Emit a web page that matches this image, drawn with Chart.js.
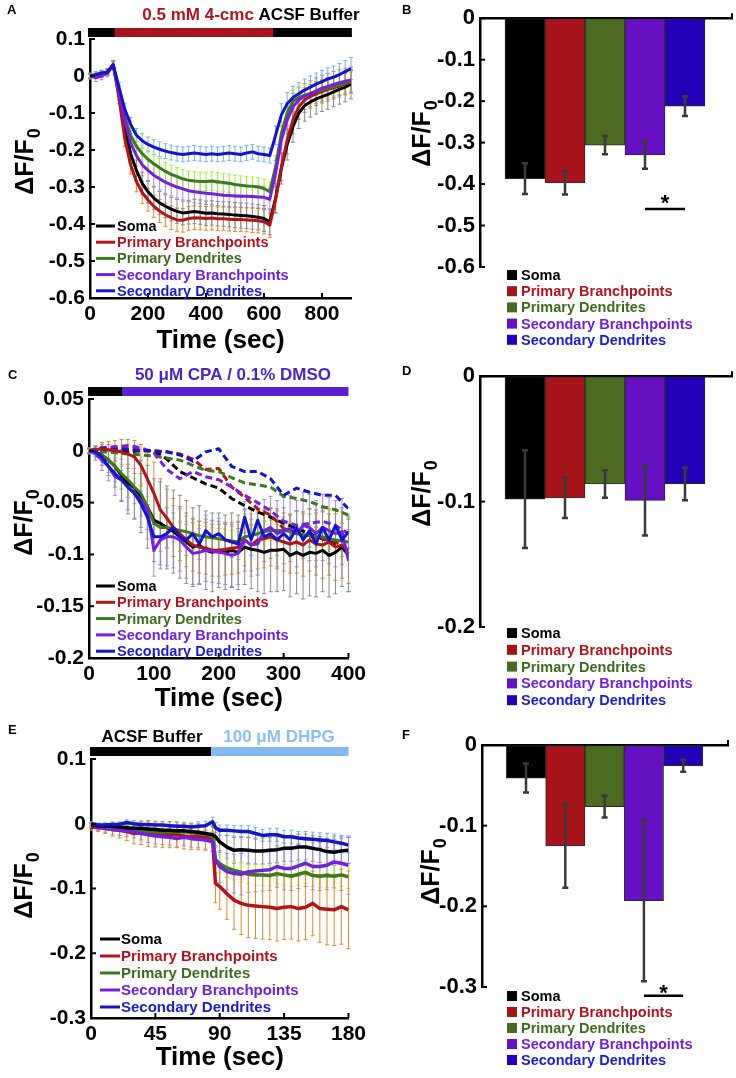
<!DOCTYPE html>
<html><head><meta charset="utf-8">
<script src="https://cdn.jsdelivr.net/npm/chart.js@4.4.0/dist/chart.umd.min.js"></script>
<style>
html,body{margin:0;padding:0;background:#fff;}
#wrap{position:relative;width:736px;height:1078px;overflow:hidden;background:#fff;}
canvas{position:absolute;display:block;}
</style></head><body>
<div id="wrap">
<canvas id="cA" width="370" height="358" style="left:0;top:0;width:370px;height:358px"></canvas>
<canvas id="cB" width="366" height="358" style="left:370px;top:0;width:366px;height:358px"></canvas>
<canvas id="cC" width="370" height="362" style="left:0;top:358px;width:370px;height:362px"></canvas>
<canvas id="cD" width="366" height="362" style="left:370px;top:358px;width:366px;height:362px"></canvas>
<canvas id="cE" width="370" height="358" style="left:0;top:720px;width:370px;height:358px"></canvas>
<canvas id="cF" width="366" height="358" style="left:370px;top:720px;width:366px;height:358px"></canvas>
</div>
<script>
// ---------------- names / categories ----------------
const seriesNames = ['Soma','Primary Branchpoints','Primary Dendrites','Secondary Branchpoints','Secondary Dendrites'];
const barCategories = [1,2,3,4,5];

// ---------------- Panel A (time course, 4-cmc) ----------------
const timeA = [0,20,40,60,80,100,120,140,160,180,200,220,240,260,280,300,320,340,360,380,400,420,440,460,480,500,520,540,560,580,600,620,640,660,680,700,720,740,760,780,800,820,840,860,880,900];
const somaA = [0,0.002,0.006,0.012,0.03,-0.05,-0.14,-0.21,-0.255,-0.29,-0.313,-0.33,-0.343,-0.352,-0.36,-0.366,-0.37,-0.368,-0.366,-0.368,-0.371,-0.37,-0.372,-0.373,-0.374,-0.376,-0.377,-0.378,-0.38,-0.382,-0.385,-0.394,-0.33,-0.25,-0.185,-0.137,-0.1,-0.08,-0.07,-0.062,-0.056,-0.05,-0.043,-0.036,-0.03,-0.022];
const pbA = [0,0,0.004,0.01,0.032,-0.06,-0.17,-0.24,-0.285,-0.315,-0.335,-0.352,-0.365,-0.375,-0.383,-0.389,-0.39,-0.385,-0.383,-0.384,-0.385,-0.384,-0.386,-0.386,-0.387,-0.388,-0.388,-0.389,-0.39,-0.391,-0.394,-0.403,-0.335,-0.245,-0.173,-0.119,-0.083,-0.065,-0.055,-0.048,-0.042,-0.037,-0.032,-0.027,-0.021,-0.015];
const pdA = [0,0,0.005,0.01,0.028,-0.04,-0.11,-0.16,-0.19,-0.21,-0.225,-0.237,-0.248,-0.258,-0.266,-0.272,-0.278,-0.282,-0.284,-0.285,-0.285,-0.284,-0.286,-0.288,-0.29,-0.293,-0.295,-0.297,-0.298,-0.3,-0.304,-0.313,-0.245,-0.155,-0.1,-0.068,-0.058,-0.052,-0.047,-0.042,-0.038,-0.033,-0.028,-0.024,-0.019,-0.015];
const sbA = [0,-0.005,0,0.008,0.028,-0.04,-0.12,-0.18,-0.215,-0.24,-0.255,-0.268,-0.278,-0.287,-0.294,-0.3,-0.305,-0.31,-0.313,-0.315,-0.317,-0.318,-0.32,-0.322,-0.323,-0.324,-0.325,-0.325,-0.326,-0.327,-0.328,-0.333,-0.263,-0.173,-0.119,-0.083,-0.065,-0.055,-0.048,-0.04,-0.033,-0.028,-0.023,-0.018,-0.014,-0.011];
const sdA = [0,0.004,0.008,0.01,0.03,-0.03,-0.09,-0.13,-0.16,-0.175,-0.185,-0.192,-0.198,-0.203,-0.207,-0.21,-0.212,-0.21,-0.208,-0.21,-0.212,-0.21,-0.212,-0.21,-0.208,-0.21,-0.212,-0.208,-0.205,-0.21,-0.212,-0.215,-0.16,-0.105,-0.075,-0.058,-0.048,-0.038,-0.03,-0.022,-0.015,-0.008,-0.003,0.004,0.012,0.02];
const somaAErr = [0.005,0.006,0.008,0.008,0.01,0.015,0.02,0.025,0.028,0.03,0.03,0.03,0.031,0.031,0.032,0.032,0.032,0.032,0.033,0.033,0.033,0.033,0.033,0.033,0.034,0.034,0.034,0.034,0.034,0.034,0.035,0.035,0.04,0.042,0.042,0.042,0.042,0.042,0.041,0.041,0.04,0.04,0.04,0.04,0.04,0.04];
const pbAErr = [0.005,0.006,0.008,0.008,0.01,0.015,0.02,0.025,0.028,0.03,0.03,0.03,0.031,0.031,0.032,0.032,0.032,0.032,0.032,0.032,0.032,0.032,0.032,0.032,0.032,0.032,0.032,0.032,0.033,0.033,0.033,0.033,0.035,0.038,0.038,0.036,0.034,0.033,0.032,0.032,0.031,0.031,0.03,0.03,0.03,0.03];
const pdAErr = [0.005,0.006,0.008,0.008,0.01,0.012,0.018,0.02,0.022,0.023,0.024,0.024,0.025,0.025,0.025,0.025,0.025,0.025,0.025,0.025,0.025,0.025,0.025,0.025,0.025,0.025,0.025,0.025,0.025,0.025,0.025,0.026,0.03,0.03,0.03,0.03,0.028,0.028,0.028,0.027,0.027,0.027,0.026,0.026,0.026,0.026];
const sbAErr = [0.008,0.01,0.01,0.01,0.01,0.015,0.02,0.025,0.028,0.03,0.03,0.03,0.03,0.03,0.03,0.03,0.03,0.03,0.03,0.03,0.03,0.03,0.03,0.03,0.03,0.03,0.03,0.03,0.03,0.03,0.03,0.03,0.035,0.038,0.038,0.036,0.035,0.035,0.035,0.035,0.035,0.035,0.035,0.035,0.035,0.035];
const sdAErr = [0.006,0.008,0.008,0.008,0.01,0.012,0.015,0.018,0.018,0.02,0.02,0.02,0.02,0.02,0.02,0.02,0.02,0.02,0.02,0.02,0.02,0.02,0.02,0.02,0.02,0.02,0.02,0.02,0.02,0.02,0.02,0.02,0.025,0.03,0.03,0.03,0.03,0.03,0.03,0.03,0.03,0.03,0.03,0.03,0.03,0.03];
const xTicksA = [0,200,400,600,800];
const yTicksA = [0.1,0,-0.1,-0.2,-0.3,-0.4,-0.5,-0.6];
const phasesA = [[-7,86],[86,631],[631,903]];

// ---------------- Panel B (bars) ----------------
const meanB = [-0.387,-0.397,-0.306,-0.33,-0.212];
const semB  = [0.037,0.028,0.022,0.033,0.024];
const yTicksB = [0,-0.1,-0.2,-0.3,-0.4,-0.5,-0.6];

// ---------------- Panel C (CPA solid, DMSO dashed) ----------------
const timeC = [0,10,20,30,40,50,60,70,80,90,100,110,120,130,140,150,160,170,180,190,200,210,220,230,240,250,260,270,280,290,300,310,320,330,340,350,360,370,380,390,400];
const somaC = [0,-0.001,-0.004,-0.009,-0.015,-0.024,-0.031,-0.036,-0.044,-0.054,-0.067,-0.07,-0.074,-0.078,-0.083,-0.088,-0.093,-0.091,-0.096,-0.098,-0.096,-0.098,-0.096,-0.098,-0.093,-0.095,-0.096,-0.098,-0.096,-0.096,-0.095,-0.101,-0.098,-0.101,-0.098,-0.099,-0.096,-0.101,-0.098,-0.093,-0.101];
const pbC = [0,0.001,0.002,0.001,0,-0.001,-0.003,-0.006,-0.014,-0.027,-0.041,-0.057,-0.065,-0.074,-0.08,-0.086,-0.091,-0.093,-0.094,-0.096,-0.096,-0.095,-0.094,-0.093,-0.086,-0.091,-0.086,-0.085,-0.083,-0.086,-0.088,-0.09,-0.088,-0.091,-0.086,-0.09,-0.091,-0.088,-0.093,-0.091,-0.096];
const pdC = [0,-0.002,-0.004,-0.009,-0.015,-0.022,-0.028,-0.035,-0.041,-0.054,-0.07,-0.074,-0.074,-0.075,-0.077,-0.078,-0.08,-0.082,-0.083,-0.084,-0.085,-0.086,-0.087,-0.088,-0.083,-0.082,-0.08,-0.078,-0.077,-0.077,-0.077,-0.078,-0.08,-0.081,-0.082,-0.083,-0.083,-0.085,-0.086,-0.087,-0.088];
const sbC = [0,-0.003,-0.009,-0.015,-0.025,-0.028,-0.035,-0.041,-0.048,-0.057,-0.096,-0.086,-0.083,-0.083,-0.086,-0.093,-0.099,-0.098,-0.096,-0.097,-0.098,-0.099,-0.101,-0.099,-0.086,-0.091,-0.09,-0.077,-0.074,-0.08,-0.077,-0.075,-0.08,-0.072,-0.074,-0.08,-0.074,-0.077,-0.08,-0.078,-0.106];
const sdC = [0,-0.001,-0.006,-0.015,-0.022,-0.028,-0.035,-0.041,-0.051,-0.064,-0.083,-0.083,-0.08,-0.074,-0.083,-0.086,-0.08,-0.09,-0.077,-0.083,-0.08,-0.086,-0.088,-0.09,-0.064,-0.086,-0.067,-0.083,-0.08,-0.086,-0.08,-0.086,-0.074,-0.086,-0.077,-0.09,-0.074,-0.086,-0.072,-0.086,-0.078];
const somaCErr = [0.002,0.005,0.01,0.015,0.02,0.025,0.03,0.03,0.035,0.04,0.04,0.04,0.04,0.04,0.04,0.04,0.038,0.038,0.038,0.038,0.036,0.036,0.036,0.036,0.036,0.038,0.04,0.04,0.04,0.04,0.04,0.04,0.04,0.042,0.042,0.042,0.04,0.04,0.04,0.038,0.035];
const pbCErr = [0.002,0.004,0.006,0.008,0.01,0.012,0.014,0.016,0.02,0.025,0.03,0.03,0.028,0.028,0.026,0.026,0.025,0.025,0.025,0.025,0.025,0.025,0.025,0.025,0.025,0.025,0.028,0.028,0.028,0.028,0.028,0.028,0.03,0.03,0.03,0.03,0.032,0.032,0.032,0.032,0.032];
const pdCErr = [0.002,0.003,0.004,0.005,0.006,0.007,0.008,0.008,0.009,0.01,0.01,0.01,0.01,0.01,0.01,0.01,0.01,0.01,0.01,0.01,0.01,0.01,0.01,0.01,0.01,0.01,0.01,0.01,0.01,0.01,0.01,0.01,0.01,0.01,0.01,0.01,0.01,0.01,0.01,0.01,0.01];
const sbCErr = [0.003,0.006,0.01,0.014,0.018,0.02,0.022,0.024,0.026,0.028,0.025,0.028,0.028,0.03,0.03,0.03,0.03,0.03,0.03,0.03,0.03,0.03,0.03,0.03,0.03,0.03,0.03,0.03,0.03,0.032,0.032,0.032,0.032,0.032,0.032,0.032,0.032,0.032,0.032,0.032,0.03];
const sdCErr = [0.002,0.003,0.005,0.006,0.008,0.009,0.01,0.01,0.012,0.012,0.014,0.014,0.014,0.014,0.014,0.015,0.015,0.015,0.015,0.015,0.015,0.015,0.015,0.015,0.015,0.015,0.015,0.015,0.015,0.015,0.016,0.016,0.016,0.016,0.016,0.016,0.016,0.016,0.016,0.016,0.016];
const timeCd = [0,20,40,60,80,100,120,140,160,180,200,220,240,260,280,300,320,340,360,380,400];
const somaCd = [0,0,-0.001,-0.001,0,0,-0.008,-0.02,-0.026,-0.032,-0.036,-0.046,-0.053,-0.059,-0.064,-0.07,-0.075,-0.08,-0.085,-0.09,-0.095];
const pbCd = [0,0.003,0.003,0.002,0.001,0,-0.001,-0.003,-0.008,-0.018,-0.017,-0.035,-0.045,-0.056,-0.062,-0.075,-0.08,-0.083,-0.085,-0.088,-0.097];
const pdCd = [0,-0.001,-0.002,-0.003,-0.004,-0.005,-0.007,-0.009,-0.014,-0.019,-0.02,-0.026,-0.031,-0.033,-0.035,-0.044,-0.046,-0.049,-0.054,-0.057,-0.062];
const sbCd = [0,0.003,0.004,0.005,0.003,-0.002,-0.018,-0.027,-0.02,-0.025,-0.028,-0.035,-0.043,-0.05,-0.058,-0.068,-0.072,-0.07,-0.068,-0.072,-0.08];
const sdCd = [0,0.002,0.001,0.001,0,0,-0.001,-0.004,-0.01,-0.001,0.002,-0.015,-0.02,-0.02,-0.027,-0.043,-0.036,-0.04,-0.043,-0.043,-0.056];
const xTicksC = [0,100,200,300,400];
const yTicksC = [0.05,0,-0.05,-0.1,-0.15,-0.2];
const phasesC = [[-1.5,52],[52,400]];

// ---------------- Panel D (bars) ----------------
const meanD = [-0.098,-0.097,-0.086,-0.099,-0.086];
const semD  = [0.039,0.016,0.011,0.028,0.013];
const yTicksD = [0,-0.1,-0.2];

// ---------------- Panel E (DHPG) ----------------
const timeE = [0,5,10,15,20,25,30,35,40,45,50,55,60,65,70,75,80,85,87,90,95,100,105,110,115,120,125,130,135,140,145,150,155,160,165,170,175,180];
const somaE = [-0.002,-0.003,-0.004,-0.004,-0.005,-0.006,-0.007,-0.007,-0.008,-0.009,-0.01,-0.01,-0.011,-0.011,-0.012,-0.013,-0.015,-0.017,-0.02,-0.028,-0.036,-0.041,-0.04,-0.041,-0.042,-0.042,-0.041,-0.04,-0.038,-0.038,-0.036,-0.036,-0.038,-0.04,-0.043,-0.044,-0.042,-0.041];
const pbE = [-0.005,-0.006,-0.007,-0.009,-0.01,-0.012,-0.015,-0.014,-0.015,-0.016,-0.017,-0.017,-0.017,-0.019,-0.02,-0.02,-0.021,-0.023,-0.092,-0.097,-0.108,-0.118,-0.123,-0.126,-0.127,-0.128,-0.129,-0.131,-0.129,-0.128,-0.131,-0.129,-0.123,-0.131,-0.132,-0.133,-0.128,-0.133];
const pdE = [-0.002,-0.004,-0.006,-0.007,-0.007,-0.008,-0.01,-0.011,-0.012,-0.012,-0.013,-0.012,-0.013,-0.012,-0.014,-0.015,-0.016,-0.02,-0.055,-0.062,-0.068,-0.072,-0.075,-0.078,-0.079,-0.079,-0.08,-0.077,-0.079,-0.081,-0.078,-0.075,-0.08,-0.081,-0.08,-0.081,-0.079,-0.082];
const sbE = [-0.002,-0.005,-0.007,-0.009,-0.01,-0.011,-0.012,-0.015,-0.017,-0.019,-0.02,-0.021,-0.023,-0.021,-0.023,-0.024,-0.025,-0.028,-0.056,-0.066,-0.074,-0.077,-0.078,-0.074,-0.073,-0.072,-0.071,-0.066,-0.069,-0.069,-0.065,-0.061,-0.066,-0.066,-0.064,-0.059,-0.061,-0.064];
const sdE = [0,-0.002,-0.002,-0.001,-0.001,0.002,0,-0.001,-0.001,-0.002,-0.002,-0.003,-0.004,-0.004,-0.005,-0.004,-0.003,0.003,-0.006,-0.01,-0.01,-0.011,-0.012,-0.012,-0.015,-0.018,-0.017,-0.017,-0.02,-0.02,-0.022,-0.023,-0.024,-0.025,-0.026,-0.028,-0.03,-0.033];
const somaEErr = [0.003,0.003,0.004,0.004,0.005,0.005,0.006,0.006,0.007,0.007,0.008,0.008,0.009,0.009,0.01,0.01,0.011,0.012,0.014,0.016,0.018,0.02,0.02,0.02,0.02,0.02,0.02,0.02,0.02,0.02,0.02,0.02,0.02,0.02,0.02,0.02,0.02,0.02];
const pbEErr = [0.005,0.006,0.008,0.01,0.012,0.014,0.016,0.018,0.02,0.02,0.02,0.02,0.02,0.02,0.02,0.02,0.02,0.02,0.03,0.035,0.04,0.045,0.048,0.05,0.05,0.05,0.05,0.05,0.05,0.05,0.05,0.05,0.05,0.052,0.055,0.055,0.058,0.06];
const pdEErr = [0.003,0.003,0.004,0.004,0.005,0.005,0.005,0.006,0.006,0.006,0.006,0.007,0.007,0.007,0.007,0.008,0.008,0.008,0.012,0.014,0.015,0.015,0.015,0.015,0.016,0.016,0.016,0.016,0.016,0.016,0.017,0.017,0.017,0.017,0.018,0.018,0.018,0.018];
const sbEErr = [0.004,0.005,0.006,0.007,0.008,0.009,0.01,0.01,0.012,0.012,0.012,0.012,0.013,0.013,0.013,0.013,0.014,0.014,0.02,0.025,0.028,0.03,0.032,0.032,0.032,0.032,0.032,0.032,0.033,0.034,0.035,0.036,0.036,0.037,0.038,0.04,0.042,0.045];
const sdEErr = [0.003,0.003,0.003,0.004,0.004,0.004,0.005,0.005,0.005,0.005,0.006,0.006,0.006,0.006,0.006,0.007,0.007,0.007,0.008,0.008,0.008,0.008,0.009,0.009,0.009,0.009,0.01,0.01,0.01,0.01,0.01,0.011,0.011,0.011,0.011,0.012,0.012,0.012];
const xTicksE = [0,45,90,135,180];
const yTicksE = [0.1,0,-0.1,-0.2,-0.3];
const phasesE = [[-0.7,84],[84,180]];

// ---------------- Panel F (bars) ----------------
const meanF = [-0.041,-0.125,-0.0765,-0.193,-0.0257];
const semF  = [0.018,0.052,0.0135,0.1,0.0075];
const yTicksF = [0,-0.1,-0.2,-0.3];

// ---------------- styles ----------------
const FONT = "'Liberation Sans', Arial, Helvetica, sans-serif";
const lineColors = ['#000000','#b3141a','#3d7a1e','#7420e0','#1414cc'];
const errColors  = ['#8c8c8c','#e0892c','#a6ee3a','#a68ae6','#74b2f2'];
const barColors  = ['#000000','#a8141c','#4a6b20','#6510c2','#2400b8'];
const textColors = ['#000000','#b0141c','#3e6b1e','#7020d8','#1c1cc8'];

Chart.defaults.font.family = FONT;
Chart.defaults.font.weight = 'bold';
Chart.defaults.color = '#000';

function fmt(v){ const r = Math.round(v*1000)/1000; return (Object.is(r,-0)?0:r).toString(); }

const DECOR = {};

function drawErrors(chart, cfg){
  const ctx = chart.ctx, ys = chart.scales.y;
  chart.data.datasets.forEach((ds, i) => {
    if (!ds.errorBars) return;
    const meta = chart.getDatasetMeta(i);
    ctx.save();
    ctx.strokeStyle = ds.errColor;
    ctx.lineWidth = cfg.errWidth;
    const cap = cfg.errCap;
    meta.data.forEach((el, j) => {
      const e = ds.errorBars[j]; if (e == null) return;
      const v = ds.data[j].y;
      const x = el.x, y1 = ys.getPixelForValue(v + e), y2 = ys.getPixelForValue(v - e);
      ctx.beginPath();
      ctx.moveTo(x, y1); ctx.lineTo(x, y2);
      ctx.moveTo(x - cap, y1); ctx.lineTo(x + cap, y1);
      ctx.moveTo(x - cap, y2); ctx.lineTo(x + cap, y2);
      ctx.stroke();
    });
    ctx.restore();
  });
}

function seg(ctx, x1, y1, x2, y2){ ctx.beginPath(); ctx.moveTo(x1,y1); ctx.lineTo(x2,y2); ctx.stroke(); }

const decor = {
  id: 'decor',
  beforeDatasetsDraw(chart){ const c = DECOR[chart.canvas.id]; if (c && c.errUnder) drawErrors(chart, c); },
  afterDatasetsDraw(chart){ const c = DECOR[chart.canvas.id]; if (c && !c.errUnder) drawErrors(chart, c); },
  afterDraw(chart){
    const o = DECOR[chart.canvas.id]; if (!o) return;
    const ctx = chart.ctx, ca = chart.chartArea, xs = chart.scales.x, ys = chart.scales.y;
    ctx.save();
    // panel letter
    ctx.fillStyle = '#000'; ctx.textAlign = 'left'; ctx.textBaseline = 'top';
    ctx.font = `bold 13px ${FONT}`;
    ctx.fillText(o.letter[0], o.letter[1], o.letter[2]);
    // inward ticks
    ctx.strokeStyle = '#000'; ctx.lineWidth = 2;
    ys.ticks.forEach(t => { const y = ys.getPixelForValue(t.value); seg(ctx, ca.left, y, ca.left + 5, y); });
    if (o.xInner) xs.ticks.forEach(t => { const x = xs.getPixelForValue(t.value); seg(ctx, x, ca.bottom, x, ca.bottom - 5); });
    if (o.rightTick) seg(ctx, ca.right, ca.top, ca.right, ca.top - 5);
    // top treatment bar
    if (o.bar) {
      o.bar.phases.forEach((p, i) => {
        const x1 = xs.getPixelForValue(p[0]), x2 = xs.getPixelForValue(p[1]);
        ctx.fillStyle = o.bar.colors[i];
        ctx.fillRect(x1, ca.top + o.bar.dy, x2 - x1, o.bar.h);
      });
    }
    // header texts
    if (o.heads) {
      ctx.textBaseline = 'middle'; ctx.textAlign = 'left';
      ctx.font = `bold 17px ${FONT}`;
      o.heads.forEach(h => {
        const total = h.pieces.reduce((s, p) => s + ctx.measureText(p[0]).width, 0);
        let x = h.cx - total / 2;
        h.pieces.forEach(p => { ctx.fillStyle = p[1]; ctx.fillText(p[0], x, h.y); x += ctx.measureText(p[0]).width; });
      });
    }
    // y title  ΔF/F0
    ctx.save();
    ctx.translate(o.ytitle[0], o.ytitle[1]);
    ctx.rotate(-Math.PI / 2);
    ctx.fillStyle = '#000'; ctx.textBaseline = 'alphabetic'; ctx.textAlign = 'left';
    ctx.font = `bold 25px ${FONT}`; const w1 = ctx.measureText('ΔF/F').width;
    ctx.font = `bold 18px ${FONT}`; const w2 = ctx.measureText('0').width;
    const sx = -(w1 + w2) / 2;
    ctx.font = `bold 25px ${FONT}`; ctx.fillText('ΔF/F', sx, 9);
    ctx.font = `bold 18px ${FONT}`; ctx.fillText('0', sx + w1 + 1, 16);
    ctx.restore();
    // legend
    if (o.legend) {
      const L = o.legend;
      ctx.font = `bold ${L.size}px ${FONT}`; ctx.textBaseline = 'middle'; ctx.textAlign = 'left';
      seriesNames.forEach((n, i) => {
        const y = L.y0 + i * L.dy;
        if (L.kind === 'line') {
          ctx.strokeStyle = lineColors[i]; ctx.lineWidth = 3;
          seg(ctx, L.x, y, L.x + L.len, y);
        } else {
          ctx.fillStyle = barColors[i];
          ctx.fillRect(L.x, y - 5, 10, 10);
        }
        ctx.fillStyle = textColors[i];
        ctx.fillText(n, L.tx, y + 1);
      });
    }
    // significance
    if (o.sig) {
      const s = o.sig;
      const x1 = xs.getPixelForValue(s.from), x2 = xs.getPixelForValue(s.to);
      const yl = ys.getPixelForValue(s.line), yst = ys.getPixelForValue(s.star);
      ctx.strokeStyle = '#000'; ctx.lineWidth = 2.5;
      seg(ctx, x1, yl, x2, yl);
      ctx.fillStyle = '#000'; ctx.font = `bold 22px ${FONT}`;
      ctx.textAlign = 'center'; ctx.textBaseline = 'alphabetic';
      ctx.fillText('*', (x1 + x2) / 2, yst + 12.5);
    }
    ctx.restore();
  }
};

function axisCommon(){
  return {
    grid: { display: true, drawOnChartArea: false, drawTicks: false, lineWidth: 1 },
    border: { display: true, color: '#000', width: 2.5 }
  };
}

function lineChart(id, c){
  DECOR[id] = c.decor;
  return new Chart(document.getElementById(id), {
    type: 'line',
    data: { datasets: c.datasets },
    options: {
      responsive: false, animation: false, devicePixelRatio: 1,
      layout: { autoPadding: false, padding: c.pad },
      elements: { point: { radius: 0, hoverRadius: 0 }, line: { tension: 0, borderJoinStyle: 'round' } },
      plugins: { legend: { display: false }, tooltip: { enabled: false } },
      scales: {
        x: Object.assign(axisCommon(), {
          type: 'linear', min: c.xMin, max: c.xMax,
          afterBuildTicks: s => { s.ticks = c.xTicks.map(v => ({ value: v })); },
          afterFit: s => { s.height = c.xH; },
          ticks: { autoSkip: false, maxRotation: 0, padding: 4, color: '#000', font: { size: 21, weight: 'bold' }, callback: v => fmt(v) },
          title: { display: true, text: 'Time (sec)', color: '#000', font: { size: 26, weight: 'bold' }, padding: { top: 0, bottom: c.xTitlePad } }
        }),
        y: Object.assign(axisCommon(), {
          type: 'linear', min: c.yMin, max: c.yMax,
          afterBuildTicks: s => { s.ticks = c.yTicks.map(v => ({ value: v })); },
          afterFit: s => { s.width = c.yW; },
          ticks: { autoSkip: false, padding: 5, color: '#000', font: { size: 21, weight: 'bold' }, callback: v => fmt(v) }
        })
      }
    },
    plugins: [decor]
  });
}

function barChart(id, c){
  DECOR[id] = c.decor;
  return new Chart(document.getElementById(id), {
    type: 'bar',
    data: { datasets: [{
      data: barCategories.map((x, i) => ({ x: x, y: c.means[i] })),
      backgroundColor: barColors, borderColor: '#2a2a2a', borderWidth: 1, borderSkipped: false,
      barPercentage: 1, categoryPercentage: 1,
      errorBars: c.sems, errColor: '#3a3a3a'
    }] },
    options: {
      responsive: false, animation: false, devicePixelRatio: 1,
      layout: { autoPadding: false, padding: c.pad },
      plugins: { legend: { display: false }, tooltip: { enabled: false } },
      scales: {
        x: Object.assign(axisCommon(), {
          type: 'linear', position: 'top', min: c.xMin, max: c.xMax, offset: false,
          afterFit: s => { s.height = 0; },
          ticks: { display: false }
        }),
        y: Object.assign(axisCommon(), {
          type: 'linear', min: c.yMin, max: 0,
          afterBuildTicks: s => { s.ticks = c.yTicks.map(v => ({ value: v })); },
          afterFit: s => { s.width = c.yW; },
          ticks: { autoSkip: false, padding: 5, color: '#000', font: { size: 22, weight: 'bold' }, callback: v => fmt(v) }
        })
      }
    },
    plugins: [decor]
  });
}

function lineDS(times, vals, i, errs, opts){
  return Object.assign({
    data: times.map((t, k) => ({ x: t, y: vals[k] })),
    borderColor: lineColors[i], borderWidth: 3, fill: false,
    errorBars: errs, errColor: errColors[i]
  }, opts || {});
}

// ---------- A ----------
lineChart('cA', {
  datasets: [
    lineDS(timeA, sdA, 4, sdAErr, { order: 0 }),
    lineDS(timeA, sbA, 3, sbAErr, { order: 1 }),
    lineDS(timeA, pdA, 2, pdAErr, { order: 2 }),
    lineDS(timeA, pbA, 1, pbAErr, { order: 3 }),
    lineDS(timeA, somaA, 0, somaAErr, { order: 4 })
  ],
  pad: { left: 0, top: 39, right: 19, bottom: 0 },
  xMin: 0, xMax: 900, xTicks: xTicksA, xH: 60, xTitlePad: 2,
  yMin: -0.6, yMax: 0.1, yTicks: yTicksA, yW: 90,
  decor: {
    letter: ['A', 7, 4], xInner: true, errUnder: true, errWidth: 1, errCap: 2,
    bar: { phases: phasesA, colors: ['#000000', '#a8141c', '#000000'], dy: -11, h: 9 },
    heads: [{ cx: 251, y: 15, pieces: [['0.5 mM 4-cmc ', '#b0141c'], ['ACSF Buffer', '#000000']] }],
    ytitle: [24, 162],
    legend: { kind: 'line', x: 96, len: 19, tx: 117, y0: 226, dy: 16.2, size: 14.5 }
  }
});

// ---------- B ----------
barChart('cB', {
  means: meanB, sems: semB,
  pad: { left: 0, top: 15, right: 4, bottom: 91 },
  xMin: -0.125, xMax: 6.175, yMin: -0.6, yTicks: yTicksB, yW: 110,
  decor: {
    letter: ['B', 32, 4], errUnder: false, errWidth: 2.5, errCap: 3, rightTick: true,
    ytitle: [51, 134],
    legend: { kind: 'box', x: 137, tx: 151, y0: 275, dy: 16.2, size: 14.5 },
    sig: { from: 4, to: 5, line: -0.46, star: -0.433 }
  }
});

// ---------- C ----------
const dash = { borderDash: [7, 4] };
lineChart('cC', {
  datasets: [
    lineDS(timeC, sdC, 4, sdCErr, { order: 0 }),
    lineDS(timeC, sbC, 3, sbCErr, { order: 1 }),
    lineDS(timeC, pdC, 2, pdCErr, { order: 3 }),
    lineDS(timeC, pbC, 1, pbCErr, { order: 2 }),
    lineDS(timeC, somaC, 0, somaCErr, { order: 4 }),
    lineDS(timeCd, sdCd, 4, null, Object.assign({ order: 5 }, dash)),
    lineDS(timeCd, sbCd, 3, null, Object.assign({ order: 6 }, dash)),
    lineDS(timeCd, pdCd, 2, null, Object.assign({ order: 7 }, dash)),
    lineDS(timeCd, pbCd, 1, null, Object.assign({ order: 8 }, dash)),
    lineDS(timeCd, somaCd, 0, null, Object.assign({ order: 9 }, dash))
  ],
  pad: { left: 0, top: 41, right: 20, bottom: 0 },
  xMin: 0, xMax: 400, xTicks: xTicksC, xH: 62, xTitlePad: 6,
  yMin: -0.2, yMax: 0.05, yTicks: yTicksC, yW: 89,
  decor: {
    letter: ['C', 8, 11], xInner: true, errUnder: true, errWidth: 1, errCap: 2,
    bar: { phases: phasesC, colors: ['#000000', '#5b1fd6'], dy: -12, h: 9 },
    heads: [{ cx: 233, y: 17, pieces: [['50 μM CPA / 0.1% DMSO', '#4b23c8']] }],
    ytitle: [23, 165],
    legend: { kind: 'line', x: 96, len: 19, tx: 117, y0: 228, dy: 16.3, size: 14.5 }
  }
});

// ---------- D ----------
barChart('cD', {
  means: meanD, sems: semD,
  pad: { left: 0, top: 17, right: 4, bottom: 93 },
  xMin: -0.125, xMax: 6.175, yMin: -0.2, yTicks: yTicksD, yW: 110,
  decor: {
    letter: ['D', 32, 7], errUnder: false, errWidth: 2.5, errCap: 3, rightTick: true,
    ytitle: [51, 136],
    legend: { kind: 'box', x: 137, tx: 151, y0: 275, dy: 16.8, size: 14.5 }
  }
});

// ---------- E ----------
lineChart('cE', {
  datasets: [
    lineDS(timeE, sdE, 4, sdEErr, { order: 0, borderWidth: 3.5 }),
    lineDS(timeE, somaE, 0, somaEErr, { order: 1, borderWidth: 3.5 }),
    lineDS(timeE, sbE, 3, sbEErr, { order: 2, borderWidth: 3.5 }),
    lineDS(timeE, pdE, 2, pdEErr, { order: 3, borderWidth: 3.5 }),
    lineDS(timeE, pbE, 1, pbEErr, { order: 4, borderWidth: 3.5 })
  ],
  pad: { left: 0, top: 39, right: 18, bottom: 0 },
  xMin: 0, xMax: 180, xTicks: xTicksE, xH: 60, xTitlePad: 5,
  yMin: -0.3, yMax: 0.1, yTicks: yTicksE, yW: 91,
  decor: {
    letter: ['E', 8, 4], xInner: true, errUnder: true, errWidth: 1, errCap: 2,
    bar: { phases: phasesE, colors: ['#000000', '#84b8f0'], dy: -12, h: 9 },
    heads: [
      { cx: 152, y: 17, pieces: [['ACSF Buffer', '#000000']] },
      { cx: 279, y: 17, pieces: [['100 μM DHPG', '#8cbff0']] }
    ],
    ytitle: [23, 166],
    legend: { kind: 'line', x: 100, len: 20, tx: 121, y0: 219, dy: 17, size: 15 }
  }
});

// ---------- F ----------
barChart('cF', {
  means: meanF, sems: semF,
  pad: { left: 0, top: 25, right: 8, bottom: 91 },
  xMin: -0.12, xMax: 6.14, yMin: -0.3, yTicks: yTicksF, yW: 112,
  decor: {
    letter: ['F', 32, 9], errUnder: false, errWidth: 2.5, errCap: 3, rightTick: true,
    ytitle: [60, 152],
    legend: { kind: 'box', x: 137, tx: 151, y0: 276, dy: 16, size: 14.5 },
    sig: { from: 4, to: 5, line: -0.311, star: -0.3 }
  }
});
</script>
</body></html>
